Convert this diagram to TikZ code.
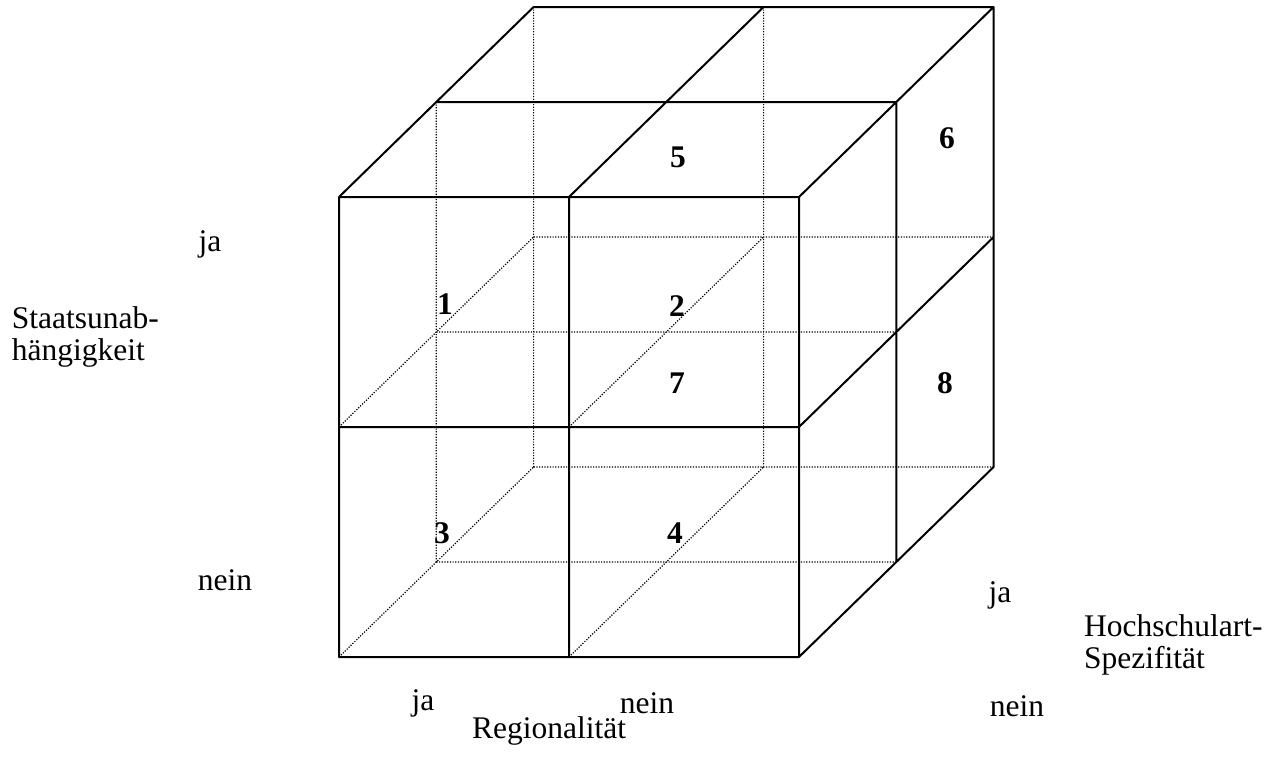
\documentclass[tikz,border=0pt]{standalone}
\usepackage{fontspec}
\setmainfont{Liberation Serif}
\usepackage{tikz}

\begin{document}
\begin{tikzpicture}[
    x=1pt, y=-1pt,
    every node/.style={inner sep=0pt, font=\fontsize{31.5}{32}\selectfont},
    kante/.style={line width=2pt, line cap=round, line join=round},
    verdeckt/.style={line width=1.2pt, dash pattern=on 1.2pt off 1.5pt}, % verdeckte Kanten
    zahl/.style={font=\fontsize{31.5}{32}\selectfont\bfseries},
    achse/.style={align=left}
]
\useasboundingbox (0,0) rectangle (1275,763);

% Gitterpunkte p<i><j><k>: i nach rechts, j nach oben, k in die Tiefe
\foreach \i in {0,1,2}
  \foreach \j in {0,1,2}
    \foreach \k in {0,1,2}
      \coordinate (p\i\j\k) at ({339+230*\i+97.3*\k},{657-230*\j-95*\k});

\draw[verdeckt] (p002) -- (p022) (p102) -- (p122) (p002) -- (p202) (p012) -- (p212)
    (p001) -- (p021) (p001) -- (p201) (p011) -- (p211)
    (p000) -- (p002) (p100) -- (p102) (p010) -- (p012) (p110) -- (p112);

\draw[kante] (p000) rectangle (p220) (p100) -- (p120) (p010) -- (p210)
    (p020) -- (p022) (p120) -- (p122) (p220) -- (p222)
    (p021) -- (p221) (p022) -- (p222)
    (p200) -- (p202) (p210) -- (p212)
    (p201) -- (p221) (p202) -- (p222);

\node[zahl] (z1) at (445,304) {1};
\node[zahl] (z2) at (677,306) {2};
\node[zahl] (z3) at (442,533) {3};
\node[zahl] (z4) at (675,533) {4};
\node[zahl] (z5) at (678,157) {5};
\node[zahl] (z6) at (947,138) {6};
\node[zahl] (z7) at (677,383) {7};
\node[zahl] (z8) at (945,383) {8};

\node (staat-ja) at (210,244) {ja};
\node[achse, anchor=east] (staat) at (159,337) {Staatsunab-\\hängigkeit};
\node (staat-nein) at (225,580) {nein};

\node (region-ja) at (423,703) {ja};
\node (region-nein) at (647,703) {nein};
\node (region) at (549,731) {Regionalität};

\node (hs-ja) at (1000,595) {ja};
\node[achse, anchor=west] (hs) at (1084,645) {Hochschulart-\\Spezifität};
\node (hs-nein) at (1017,706) {nein};

\end{tikzpicture}
\end{document}
